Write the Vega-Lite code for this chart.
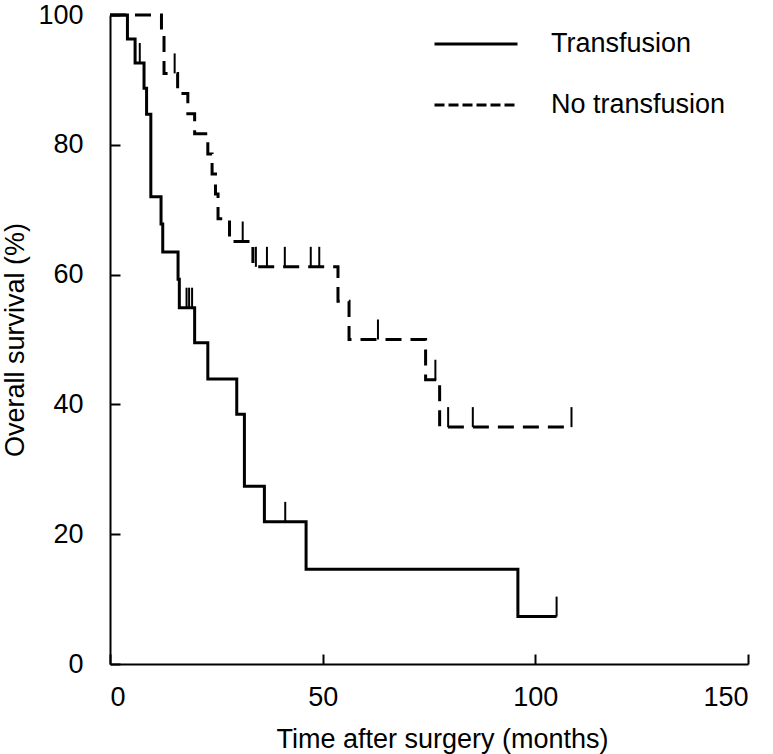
{
  "$schema": "https://vega.github.io/schema/vega-lite/v6.json",
  "autosize": "none",
  "width": 638,
  "height": 649,
  "padding": {"left": 110, "top": 15, "right": 25, "bottom": 90},
  "background": "white",
  "config": {
    "view": {"stroke": null},
    "font": "Liberation Sans",
    "axis": {
      "grid": false,
      "domainColor": "black",
      "domainWidth": 2,
      "tickColor": "black",
      "tickWidth": 2,
      "tickSize": -10,
      "labelColor": "black",
      "labelFont": "Liberation Sans",
      "labelFontSize": 27,
      "titleFont": "Liberation Sans",
      "titleFontSize": 27,
      "titleFontWeight": "normal",
      "titleColor": "black"
    },
    "legend": {
      "labelFont": "Liberation Sans",
      "labelFontSize": 27,
      "labelColor": "black",
      "labelLimit": 400
    }
  },
  "datasets": {
    "curves": [
      {"group": "Transfusion", "time": 0, "survival": 100},
      {"group": "Transfusion", "time": 4.1, "survival": 96.3},
      {"group": "Transfusion", "time": 5.9, "survival": 92.6},
      {"group": "Transfusion", "time": 8.0, "survival": 88.7},
      {"group": "Transfusion", "time": 8.6, "survival": 84.7},
      {"group": "Transfusion", "time": 9.6, "survival": 72.0},
      {"group": "Transfusion", "time": 12.0, "survival": 67.8},
      {"group": "Transfusion", "time": 12.4, "survival": 63.5},
      {"group": "Transfusion", "time": 16.0, "survival": 59.3},
      {"group": "Transfusion", "time": 16.3, "survival": 54.9},
      {"group": "Transfusion", "time": 19.9, "survival": 49.5},
      {"group": "Transfusion", "time": 23.0, "survival": 43.9},
      {"group": "Transfusion", "time": 29.8, "survival": 38.5},
      {"group": "Transfusion", "time": 31.6, "survival": 27.4},
      {"group": "Transfusion", "time": 36.3, "survival": 21.9},
      {"group": "Transfusion", "time": 46.1, "survival": 14.6},
      {"group": "Transfusion", "time": 95.9, "survival": 7.3},
      {"group": "Transfusion", "time": 105.0, "survival": 7.3},
      {"group": "No transfusion", "time": 0, "survival": 100},
      {"group": "No transfusion", "time": 12.1, "survival": 97.0},
      {"group": "No transfusion", "time": 12.7, "survival": 91.0},
      {"group": "No transfusion", "time": 15.9, "survival": 87.9},
      {"group": "No transfusion", "time": 18.3, "survival": 84.8},
      {"group": "No transfusion", "time": 19.9, "survival": 81.7},
      {"group": "No transfusion", "time": 23.0, "survival": 78.6},
      {"group": "No transfusion", "time": 24.0, "survival": 75.5},
      {"group": "No transfusion", "time": 24.8, "survival": 72.4},
      {"group": "No transfusion", "time": 25.4, "survival": 68.6},
      {"group": "No transfusion", "time": 28.1, "survival": 65.1},
      {"group": "No transfusion", "time": 33.6, "survival": 61.2},
      {"group": "No transfusion", "time": 53.6, "survival": 55.9},
      {"group": "No transfusion", "time": 56.2, "survival": 50.0},
      {"group": "No transfusion", "time": 74.2, "survival": 43.8},
      {"group": "No transfusion", "time": 77.5, "survival": 36.5},
      {"group": "No transfusion", "time": 108.5, "survival": 36.5}
    ],
    "censored": [
      {"group": "Transfusion", "time": 7.0, "survival": 92.6},
      {"group": "Transfusion", "time": 18.0, "survival": 54.9},
      {"group": "Transfusion", "time": 18.6, "survival": 54.9},
      {"group": "Transfusion", "time": 19.3, "survival": 54.9},
      {"group": "Transfusion", "time": 41.2, "survival": 21.9},
      {"group": "Transfusion", "time": 105.0, "survival": 7.3},
      {"group": "No transfusion", "time": 15.2, "survival": 91.0},
      {"group": "No transfusion", "time": 31.2, "survival": 65.1},
      {"group": "No transfusion", "time": 34.3, "survival": 61.2},
      {"group": "No transfusion", "time": 36.9, "survival": 61.2},
      {"group": "No transfusion", "time": 41.1, "survival": 61.2},
      {"group": "No transfusion", "time": 47.2, "survival": 61.2},
      {"group": "No transfusion", "time": 49.2, "survival": 61.2},
      {"group": "No transfusion", "time": 63.0, "survival": 50.0},
      {"group": "No transfusion", "time": 76.5, "survival": 43.8},
      {"group": "No transfusion", "time": 79.5, "survival": 36.5},
      {"group": "No transfusion", "time": 85.3, "survival": 36.5},
      {"group": "No transfusion", "time": 108.5, "survival": 36.5}
    ]
  },
  "encoding": {
    "x": {
      "field": "time", "type": "quantitative",
      "scale": {"domain": [0, 150], "nice": false},
      "axis": {"values": [0, 50, 100, 150], "title": "Time after surgery (months)", "labelPadding": 30, "titlePadding": 16, "titleX": 332, "titleAlign": "center"}
    },
    "y": {
      "field": "survival", "type": "quantitative",
      "scale": {"domain": [0, 100], "nice": false},
      "axis": {"values": [0, 20, 40, 60, 80, 100], "title": "Overall survival (%)", "labelPadding": 37, "titlePadding": 8}
    }
  },
  "layer": [
    {
      "data": {"name": "curves"},
      "transform": [{"filter": "datum.group === 'No transfusion'"}],
      "mark": {"type": "line", "interpolate": "step-after", "color": "black", "strokeWidth": 3, "strokeCap": "butt", "strokeJoin": "miter", "strokeDash": [16, 9]}
    },
    {
      "data": {"name": "curves"},
      "transform": [{"filter": "datum.group === 'Transfusion'"}],
      "mark": {"type": "line", "interpolate": "step-after", "color": "black", "strokeWidth": 3, "strokeCap": "butt", "strokeJoin": "miter"}
    },
    {
      "data": {"name": "curves"},
      "transform": [{"filter": "datum.time < 0"}],
      "mark": {"type": "line", "color": "black", "strokeWidth": 3},
      "encoding": {
        "strokeDash": {
          "field": "group", "type": "nominal",
          "scale": {"domain": ["Transfusion", "No transfusion"], "range": [[1, 0], [10, 4]]},
          "legend": {
            "title": null,
            "orient": "none",
            "legendX": 323,
            "legendY": 18,
            "padding": 0,
            "symbolType": "stroke",
            "symbolSize": 6889,
            "symbolStrokeWidth": 3,
            "symbolStrokeColor": "black",
            "clipHeight": 22,
            "rowPadding": 34,
            "labelOffset": 32
          }
        }
      }
    },
    {
      "data": {"name": "censored"},
      "mark": {"type": "point", "shape": "M0,0L0,-1", "size": 1600, "filled": false, "color": "black", "strokeWidth": 2, "opacity": 1}
    }
  ]
}
